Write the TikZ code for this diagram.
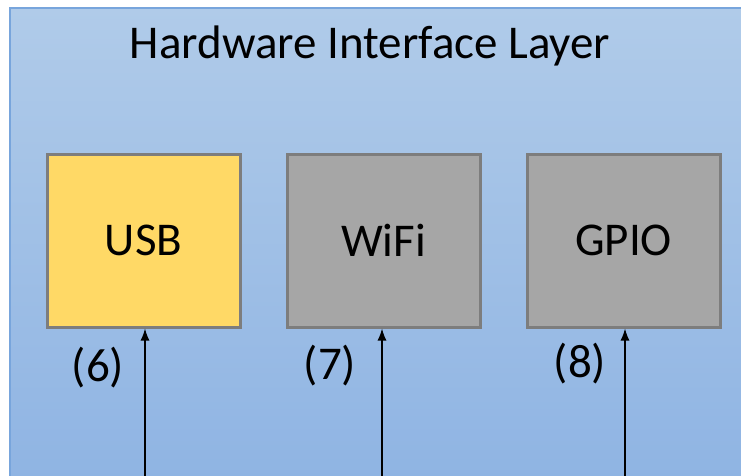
\documentclass[tikz,border=0pt]{standalone}
\usepackage{fontspec}
\setmainfont{Carlito}
\usetikzlibrary{arrows.meta}
\begin{document}
\begin{tikzpicture}[x=1pt,y=-1pt,
  block/.style={draw={rgb,255:red,125;green,125;blue,125}, line width=3pt, minimum width=193pt, minimum height=173pt, inner sep=0pt, font=\fontsize{47}{56}\selectfont},
  usbfill/.style={fill={rgb,255:red,255;green,217;blue,102}},
  greyfill/.style={fill={rgb,255:red,166;green,166;blue,166}},
  lbl/.style={font=\fontsize{47}{56}\selectfont, inner sep=0pt},
  link/.style={-{Latex[length=12pt,width=9pt]}, line width=1.3pt}
]
\definecolor{bgtop}{RGB}{176,203,233}
\definecolor{bgbot}{RGB}{143,180,227}
\definecolor{bgedge}{RGB}{120,165,220}
\useasboundingbox (0,0) rectangle (741,475);
\fill[white] (0,0) rectangle (741,475);
% layer panel with vertical shading
\shade[top color=bgtop, bottom color=bgbot] (10,8) rectangle (745,480);
\draw[bgedge, line width=1.5pt] (10,480) -- (10,8) -- (745,8);
\node[lbl] (title) at (370,46) {Hardware Interface Layer};
% hardware blocks
\node[block, usbfill] (usb) at (143.5,240.5) {USB};
\node[block, greyfill] (wifi) at (383.5,240.5) {WiFi};
\node[block, greyfill] (gpio) at (623.5,240.5) {GPIO};
% incoming links
\coordinate (in6) at (145,480);
\coordinate (in7) at (382,480);
\coordinate (in8) at (625,480);
\draw[link] (in6) -- (usb.south -| in6);
\draw[link] (in7) -- (wifi.south -| in7);
\draw[link] (in8) -- (gpio.south -| in8);
\node[lbl] (l6) at (98,368) {(6)};
\node[lbl] (l7) at (330,366) {(7)};
\node[lbl] (l8) at (580,364) {(8)};
\end{tikzpicture}
\end{document}
